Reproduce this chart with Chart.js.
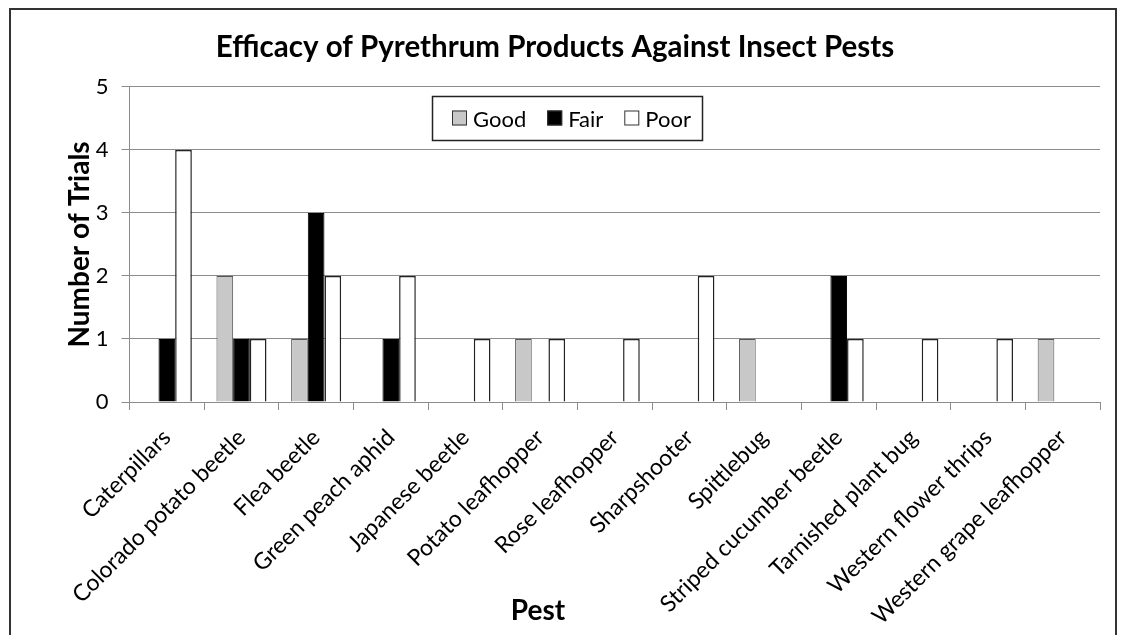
<!DOCTYPE html>
<html>
<head>
<meta charset="utf-8">
<script src="https://cdn.jsdelivr.net/npm/chart.js@4.4.1/dist/chart.umd.min.js"></script>
<style>
  html, body { margin: 0; padding: 0; background: #fff; }
  #wrap { width: 1122px; height: 635px; }
</style>
</head>
<body>
<div id="wrap"><canvas id="myChart" width="1122" height="635"></canvas></div>
<script>
//data
const pests = ["Caterpillars", "Colorado potato beetle", "Flea beetle", "Green peach aphid",
  "Japanese beetle", "Potato leafhopper", "Rose leafhopper", "Sharpshooter", "Spittlebug",
  "Striped cucumber beetle", "Tarnished plant bug", "Western flower thrips", "Western grape leafhopper"];
const good = [0, 2, 1, 0, 0, 1, 0, 0, 1, 0, 0, 0, 1];
const fair = [1, 1, 3, 1, 0, 0, 0, 0, 0, 2, 0, 0, 0];
const poor = [4, 1, 2, 2, 1, 1, 1, 2, 0, 1, 1, 1, 0];
const yTicks = [0, 1, 2, 3, 4, 5];

const FONT = "Lato, 'Open Sans', sans-serif";

// zero counts are simply not drawn
function noZero(arr) {
  return arr.map((v) => (v === 0 ? null : v));
}

const datasets = [
  { label: "Good", data: noZero(good), backgroundColor: "#c8c8c8", borderColor: "#555555", borderWidth: 1 },
  { label: "Fair", data: noZero(fair), backgroundColor: "#000000", borderColor: "#000000", borderWidth: 1 },
  { label: "Poor", data: noZero(poor), backgroundColor: "#ffffff", borderColor: "#222222", borderWidth: 1.5 },
];

//frame round the whole chart
const framePlugin = {
  id: "frame",
  beforeDraw(chart) {
    const ctx = chart.ctx;
    ctx.save();
    ctx.fillStyle = "#fff";
    ctx.fillRect(0, 0, chart.width, chart.height);
    ctx.strokeStyle = "#333";
    ctx.lineWidth = 2;
    ctx.strokeRect(10, 9, 1106, 700);
    ctx.restore();
  },
};

//legend box drawn inside the plot
const insideLegend = {
  id: "insideLegend",
  afterDraw(chart) {
    const ctx = chart.ctx;
    const box = { x: 432.5, y: 96.5, w: 270, h: 44 };
    ctx.save();
    ctx.fillStyle = "#fff";
    ctx.fillRect(box.x, box.y, box.w, box.h);
    ctx.strokeStyle = "#222";
    ctx.lineWidth = 1.5;
    ctx.strokeRect(box.x, box.y, box.w, box.h);
    ctx.font = "22px " + FONT;
    ctx.textBaseline = "middle";
    let x = box.x + 19.5;
    const cy = box.y + box.h / 2;
    chart.data.datasets.forEach((ds) => {
      ctx.fillStyle = ds.backgroundColor;
      ctx.fillRect(x, cy - 8, 15, 15);
      ctx.strokeStyle = "#333";
      ctx.lineWidth = 1;
      ctx.strokeRect(x + 0.5, cy - 7.5, 14, 14);
      ctx.fillStyle = "#000";
      ctx.fillText(ds.label, x + 21, cy + 1);
      x += 21 + ctx.measureText(ds.label).width + 21;
    });
    ctx.restore();
  },
};

//x axis title, placed like the original
const pestTitle = {
  id: "pestTitle",
  afterDraw(chart) {
    const ctx = chart.ctx;
    ctx.save();
    ctx.font = "bold 28px " + FONT;
    ctx.fillStyle = "#000";
    ctx.textAlign = "center";
    ctx.textBaseline = "middle";
    ctx.fillText("Pest", 538, 611);
    ctx.restore();
  },
};

const config = {
  type: "bar",
  data: { labels: pests, datasets },
  options: {
    responsive: false,
    animation: false,
    layout: { padding: { left: 10, right: 22, top: 0, bottom: 0 } },
    datasets: { bar: { categoryPercentage: 0.67, barPercentage: 1.0 } },
    plugins: {
      legend: { display: false },
      tooltip: { enabled: false },
      title: {
        display: true,
        text: "Efficacy of Pyrethrum Products Against Insect Pests",
        color: "#000",
        font: { family: FONT, size: 29.5, weight: "bold" },
        padding: { top: 30, bottom: 21.5 },
      },
    },
    scales: {
      x: {
        grid: { offset: true, drawOnChartArea: false, drawTicks: true, tickLength: 8, color: "#8c8c8c" },
        border: { color: "#8c8c8c" },
        ticks: {
          autoSkip: false, minRotation: 45, maxRotation: 45, padding: 14,
          color: "#000", font: { family: FONT, size: 23 },
        },
        afterFit(scale) { scale.height = 233; },
      },
      y: {
        min: 0,
        max: 5,
        afterBuildTicks(scale) { scale.ticks = yTicks.map((v) => ({ value: v })); },
        grid: { color: "#8c8c8c", tickLength: 8 },
        border: { color: "#8c8c8c" },
        ticks: { padding: 13, color: "#000", font: { family: FONT, size: 22 } },
        title: {
          display: true,
          text: "Number of Trials",
          color: "#000",
          font: { family: FONT, size: 28, weight: "bold" },
          padding: { top: 53, bottom: 0 },
        },
        afterFit(scale) { scale.width = 119.5; },
      },
    },
  },
  plugins: [framePlugin, insideLegend, pestTitle],
};

new Chart(document.getElementById("myChart"), config);
</script>
</body>
</html>
